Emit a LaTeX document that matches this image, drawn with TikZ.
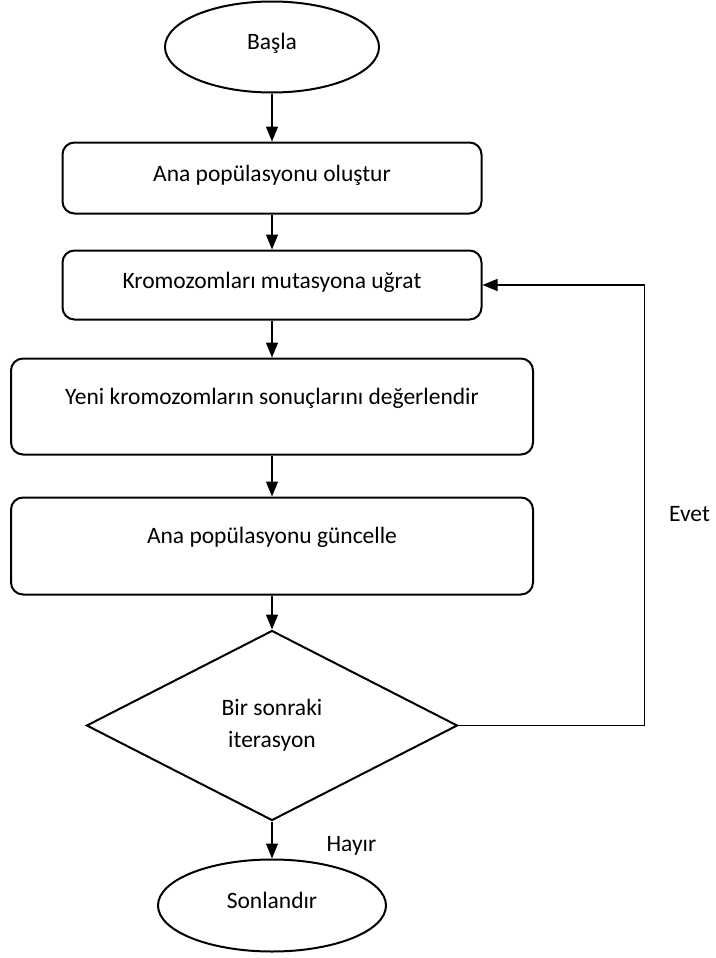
\documentclass[tikz,border=0pt]{standalone}
\usepackage{fontspec}
\setmainfont{Carlito}
\usepackage{tikz}
\usetikzlibrary{positioning}
\usetikzlibrary{shapes.geometric}
\usetikzlibrary{arrows.meta}

\begin{document}
\begin{tikzpicture}[ x=1pt, y=1pt,
    every node/.style={font=\fontsize{23.5}{31.7}\selectfont},
    terminal/.style= {
        ellipse,
        draw,
        line width=2pt,
        text height=17pt,
        text depth=11pt },
    process/.style= {
        rectangle,
        rounded corners=12pt,
        draw,
        line width=2pt,
        text height=17pt,
        text depth=11pt },
    decision/.style= {
        diamond,
        draw,
        line width=2pt,
        align=center,
        minimum width=371pt,
        minimum height=190pt },
    flow/.style= {
        -{Triangle[length=15pt, width=12pt]},
        line width=1.2pt } ]
    \useasboundingbox (0,0) rectangle (715,-958);
    \node (start) [terminal, minimum width=214pt, minimum height=91pt] at (272,-47) {Başla};
    \node (init) [process, below=48pt of start, minimum width=419pt, minimum height=71pt] {Ana popülasyonu oluştur};
    \node (mutate) [process, below=35pt of init, minimum width=419pt, minimum height=69pt] {Kromozomları mutasyona uğrat};
    \node (evaluate) [process, below=37pt of mutate, minimum width=522pt, minimum height=96pt, text depth=22pt] {Yeni kromozomların sonuçlarını değerlendir};
    \node (update) [process, below=41pt of evaluate, minimum width=522pt, minimum height=97pt, text depth=22pt] {Ana popülasyonu güncelle};
    \node (decide) [decision, below=34pt of update] {Bir sonraki\\iterasyon};
    \node (stop) [terminal, below=37pt of decide, minimum width=228pt, minimum height=92pt] {Sonlandır};
    \draw [flow] (start) -- (init);
    \draw [flow] (init) -- (mutate);
    \draw [flow] (mutate) -- (evaluate);
    \draw [flow] (evaluate) -- (update);
    \draw [flow] (update) -- (decide);
    \draw [flow] (decide) -- (stop) node[pos=0.65, right=50pt, inner sep=4pt] {Hayır};
    \draw [flow] (decide.east) -- ++(186,0) |- (mutate.east) node[pos=0.24, right=20pt, inner sep=4pt] {Evet};
\end{tikzpicture}
\end{document}
